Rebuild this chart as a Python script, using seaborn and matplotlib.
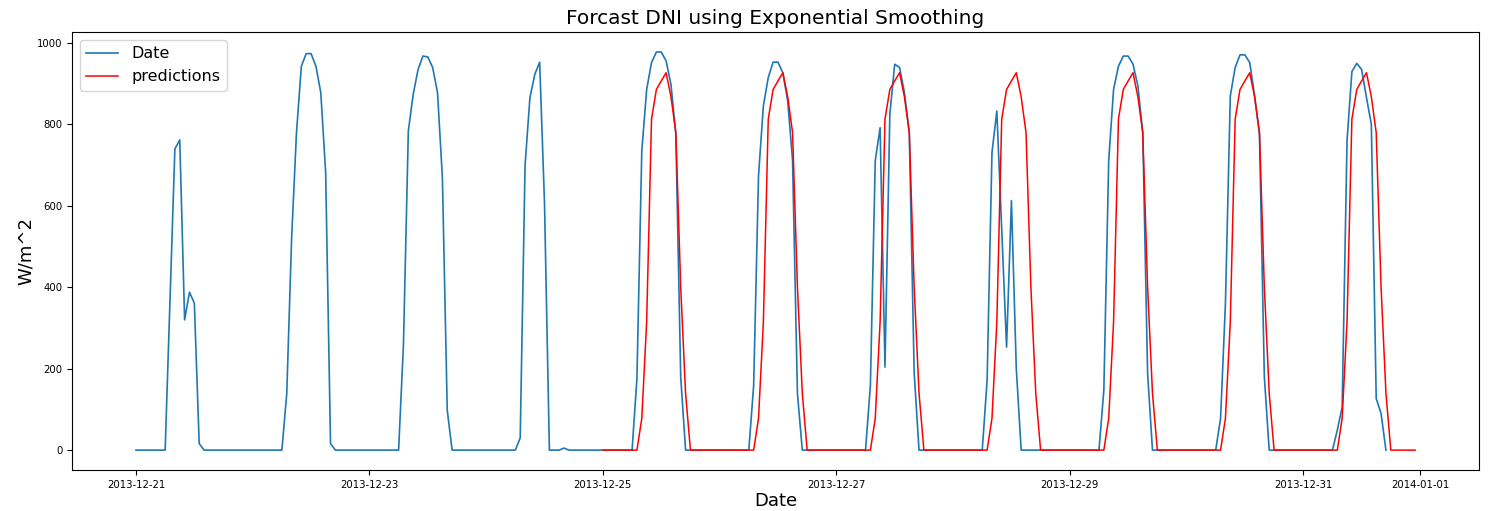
import pandas as pd
import matplotlib
matplotlib.use('Agg')
import matplotlib.pyplot as plt
import seaborn as sns

# DNI mesurat, orar, 2013-12-21 00:00 -> 2013-12-31 17:00 (un rand = o zi)
dni_obs = [
    0, 0, 0, 0, 0, 0, 0, 370, 740, 762, 320, 388, 361, 16, 0, 0, 0, 0, 0, 0, 0, 0, 0, 0,
    0, 0, 0, 0, 0, 0, 0, 139, 520, 780, 943, 974, 974, 943, 878, 682, 16, 0, 0, 0, 0, 0, 0, 0,
    0, 0, 0, 0, 0, 0, 0, 261, 784, 874, 935, 968, 966, 940, 878, 670, 98, 0, 0, 0, 0, 0, 0, 0,
    0, 0, 0, 0, 0, 0, 0, 30, 700, 866, 923, 953, 605, 0, 0, 0, 5, 0, 0, 0, 0, 0, 0, 0,
    0, 0, 0, 0, 0, 0, 0, 176, 735, 886, 952, 978, 978, 956, 898, 776, 180, 0, 0, 0, 0, 0, 0, 0,
    0, 0, 0, 0, 0, 0, 0, 159, 674, 846, 915, 953, 953, 927, 858, 711, 139, 0, 0, 0, 0, 0, 0, 0,
    0, 0, 0, 0, 0, 0, 0, 159, 711, 792, 204, 825, 948, 940, 878, 780, 190, 0, 0, 0, 0, 0, 0, 0,
    0, 0, 0, 0, 0, 0, 0, 172, 731, 833, 540, 253, 613, 200, 0, 0, 0, 0, 0, 0, 0, 0, 0, 0,
    0, 0, 0, 0, 0, 0, 0, 147, 711, 886, 943, 968, 968, 948, 895, 780, 188, 0, 0, 0, 0, 0, 0, 0,
    0, 0, 0, 0, 0, 0, 0, 78, 360, 870, 940, 971, 971, 952, 870, 775, 180, 0, 0, 0, 0, 0, 0, 0,
    0, 0, 0, 0, 0, 0, 0, 49, 106, 760, 930, 950, 935, 866, 800, 127, 90, 0,
]

# predictii, orar, 2013-12-25 00:00 -> 2013-12-31 23:00
dni_pred = [
    0, 0, 0, 0, 0, 0, 0, 0, 78, 315, 813, 886, 907, 927, 868, 780, 400, 140, 0, 0, 0, 0, 0, 0,
    0, 0, 0, 0, 0, 0, 0, 0, 78, 315, 813, 886, 907, 927, 868, 780, 400, 140, 0, 0, 0, 0, 0, 0,
    0, 0, 0, 0, 0, 0, 0, 0, 78, 315, 813, 886, 907, 927, 868, 780, 400, 140, 0, 0, 0, 0, 0, 0,
    0, 0, 0, 0, 0, 0, 0, 0, 78, 315, 813, 886, 907, 927, 868, 780, 400, 140, 0, 0, 0, 0, 0, 0,
    0, 0, 0, 0, 0, 0, 0, 0, 78, 315, 813, 886, 907, 927, 868, 780, 400, 140, 0, 0, 0, 0, 0, 0,
    0, 0, 0, 0, 0, 0, 0, 0, 78, 315, 813, 886, 907, 927, 868, 780, 400, 140, 0, 0, 0, 0, 0, 0,
    0, 0, 0, 0, 0, 0, 0, 0, 78, 315, 813, 886, 907, 927, 868, 780, 400, 140, 0, 0, 0, 0, 0, 0,
]

obs = pd.DataFrame({
    'Date': pd.date_range('2013-12-21 00:00', periods=len(dni_obs), freq='h'),
    'DNI': dni_obs,
})
pred = pd.DataFrame({
    'Date': pd.date_range('2013-12-25 00:00', periods=len(dni_pred), freq='h'),
    'DNI': dni_pred,
})

fig = plt.figure(figsize=(14.88, 5.11), dpi=100)
ax = fig.add_axes([0.0484, 0.0802, 0.9456, 0.857])

sns.lineplot(x='Date', y='DNI', data=obs, ax=ax, color='#1f77b4', label='Date', linewidth=1.2)
sns.lineplot(x='Date', y='DNI', data=pred, ax=ax, color='red', label='predictions', linewidth=1.1)

ax.set_title('Forcast DNI using Exponential Smoothing', fontsize=14.5)
ax.set_xlabel('Date', fontsize=13, labelpad=1.5)
ax.set_ylabel('W/m^2', fontsize=13, labelpad=1.5)
ax.tick_params(labelsize=7.3)
ax.legend(loc='upper left', fontsize=11.5)

fig.savefig('out.png', dpi=100)
